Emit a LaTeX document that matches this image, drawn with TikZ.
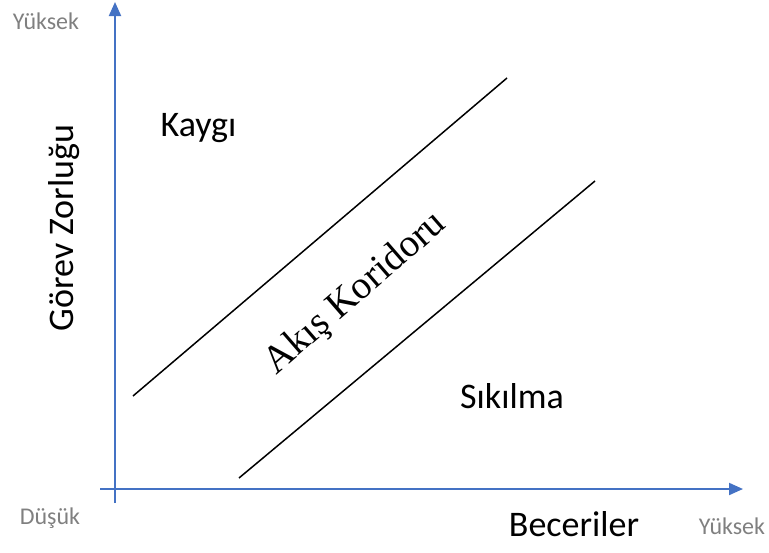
\documentclass[tikz,border=0pt]{standalone}
\usepackage{fontspec}
\setmainfont{Carlito}
\newfontfamily\serifakis{Liberation Serif}
\usetikzlibrary{arrows.meta}
\definecolor{axisblue}{HTML}{4472C4}
\definecolor{lblgray}{HTML}{808080}
\begin{document}
\begin{tikzpicture}[x=1pt,y=-1pt,
  axisline/.style={draw=axisblue,line width=2pt,-{Triangle[length=14pt,width=12pt]}},
  bandline/.style={draw=black,line width=1.5pt},
  endlabel/.style={text=lblgray,font=\fontsize{24}{28}\selectfont,inner sep=0pt},
  biglabel/.style={text=black,font=\fontsize{36}{42}\selectfont,inner sep=0pt}]
\useasboundingbox (0,0) rectangle (769,552);
% axes
\coordinate (vbot) at (115,503);
\coordinate (vtop) at (115,2);
\coordinate (hleft) at (100,489);
\coordinate (hright) at (743,489);
\draw[axisline] (vbot) -- (vtop);
\draw[axisline] (hleft) -- (hright);
% band lines
\coordinate (a1) at (133,396);
\coordinate (a2) at (507,78);
\coordinate (b1) at (239,478);
\coordinate (b2) at (595,181);
\draw[bandline] (a1) -- (a2);
\draw[bandline] (b1) -- (b2);
% labels
\node[endlabel] (ytop) at (46,21) {Yüksek};
\node[endlabel] (dusuk) at (50,518) {Düşük};
\node[endlabel] (yright) at (732,526) {Yüksek};
\node[biglabel,anchor=base] (kaygi) at (198.5,136) {Kaygı};
\node[biglabel,anchor=base] (sikilma) at (512,408) {Sıkılma};
\node[biglabel] (beceri) at (574,524) {Beceriler};
\node[biglabel,rotate=90] (gorev) at (64,228) {Görev Zorluğu};
\node[inner sep=0pt,rotate=41,font=\serifakis\fontsize{39}{45}\selectfont] (akis) at (356,294) {Akış Koridoru};
\end{tikzpicture}
\end{document}
